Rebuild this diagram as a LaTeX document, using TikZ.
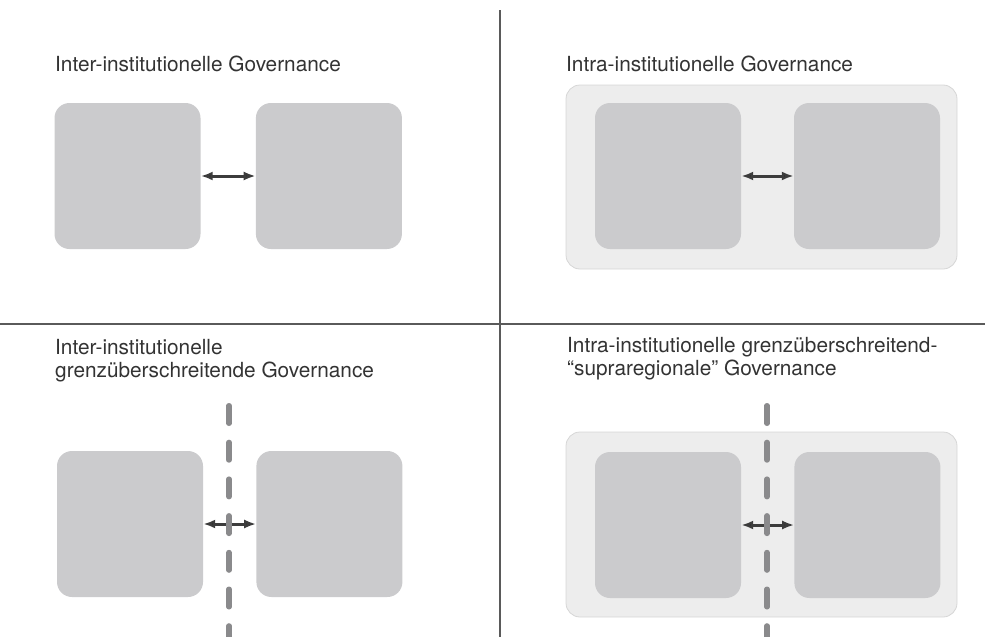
\documentclass[tikz,border=0pt]{standalone}
\usepackage{fontspec}
\setmainfont{TeX Gyre Heros}
\usetikzlibrary{arrows.meta,positioning}
\definecolor{boxgray}{HTML}{CBCBCD}
\definecolor{regiongray}{HTML}{EDEDED}
\definecolor{regionline}{HTML}{D6D6D6}
\definecolor{arrowgray}{HTML}{3C3C3C}
\definecolor{cutgray}{HTML}{8A8A8C}
\definecolor{rulegray}{HTML}{5A5A5A}
\definecolor{textgray}{HTML}{333333}

\begin{document}
\begin{tikzpicture}[x=1pt,y=-1pt,node distance=53pt,
  inst node/.style={rectangle,rounded corners=15pt,fill=boxgray,minimum width=146pt,minimum height=146pt,inner sep=0pt},
  region node/.style={rectangle,rounded corners=14pt,fill=regiongray,draw=regionline,line width=0.8pt,minimum width=391pt,minimum height=184pt,inner sep=0pt},
  link arrow/.style={{Latex[length=12pt,width=9pt]}-{Latex[length=12pt,width=9pt]},line width=3pt,draw=arrowgray},
  cut line/.style={cutgray,line width=5.5pt,line cap=round,dash pattern=on 17.5pt off 19.2pt},
  panel title/.style={anchor=base west,align=left,inner sep=0pt,text=textgray,font=\fontsize{20.8}{23}\selectfont}]
  \useasboundingbox (0,0) rectangle (985,637);

  % quadrant rules
  \coordinate (rule top) at (500,10);
  \coordinate (rule bottom) at (500,637);
  \coordinate (rule left) at (0,324);
  \coordinate (rule right) at (985,324);
  \draw[rulegray,line width=1.5pt] (rule top) -- (rule bottom);
  \draw[rulegray,line width=1.5pt] (rule left) -- (rule right);

  % top left
  \node[panel title] (t1) at (55,71) {Inter-institutionelle Governance};
  \node[inst node] (a1) at (127.5,176) {};
  \node[inst node] (b1) [right=55pt of a1] {};

  % top right
  \node[panel title] (t2) at (566,71) {Intra-institutionelle Governance};
  \node[region node] (r2) at (761.5,177) {};
  \node[inst node] (a2) at (668,176) {};
  \node[inst node] (b2) [right of=a2,node distance=199pt] {};

  % bottom left
  \node[panel title] (t3) at (55,377) {Inter-institutionelle\\grenzüberschreitende Governance};
  \node[inst node] (a3) at (130,524) {};
  \node[inst node] (b3) [right=of a3] {};

  % bottom right
  \node[panel title] (t4) at (567,375) {Intra-institutionelle grenzüberschreitend-\\“supraregionale” Governance};
  \node[region node,minimum height=185pt] (r4) at (761.5,524.5) {};
  \node[inst node] (a4) at (668,525) {};
  \node[inst node] (b4) [right=of a4] {};

  \path[link arrow]
    (a1) edge (b1)
    (a2) edge (b2)
    (a3) edge (b3)
    (a4) edge (b4);

  % borders
  \coordinate (cut3 top) at (229,405.75);
  \coordinate (cut3 bottom) at (229,637);
  \coordinate (cut4 top) at (767,405.75);
  \coordinate (cut4 bottom) at (767,637);
  \draw[cut line] (cut3 top) -- (cut3 bottom);
  \draw[cut line] (cut4 top) -- (cut4 bottom);
\end{tikzpicture}
\end{document}
